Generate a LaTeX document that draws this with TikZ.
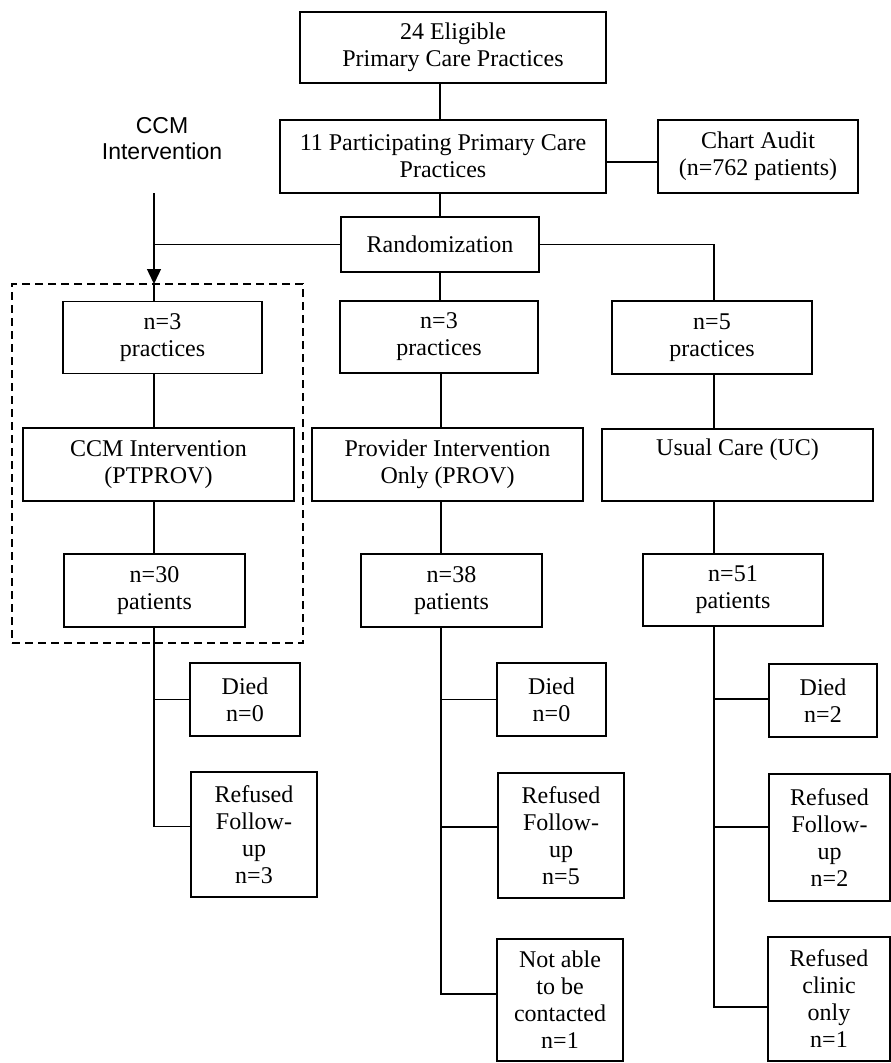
\documentclass[tikz,border=0pt]{standalone}
\usepackage{fontspec}
\setmainfont{Liberation Serif}
\newfontfamily\labelsans{Liberation Sans}
\usetikzlibrary{arrows.meta,calc}
\begin{document}
\begin{tikzpicture}[x=1pt,y=-1pt,
  box/.style={draw,line width=1.4pt,align=center,inner sep=0pt,font=\fontsize{24}{27}\selectfont},
  conn/.style={line width=1.4pt},
  groupbox/.style={draw,line width=1.4pt,dash pattern=on 8pt off 5pt,inner sep=0pt},
]
\useasboundingbox (0,0) rectangle (891,1063);

% dashed group
\node[groupbox,minimum width=291pt,minimum height=359pt] (ccmgroup) at (157.5,463.5) {};

% top
\node[box,minimum width=306pt,minimum height=71pt] (elig) at (453,47.5) {24 Eligible\\Primary Care Practices};
\node[box,minimum width=326pt,minimum height=73pt] (part) at (443,156.5) {11 Participating Primary Care\\Practices};
\node[box,minimum width=200pt,minimum height=73pt] (chart) at (758,156.5) {Chart Audit\\(n=762 patients)};
\node[box,minimum width=198pt,minimum height=55pt] (rand) at (440,244.5) {Randomization};

\node[font=\labelsans\fontsize{23}{26}\selectfont,align=center,inner sep=0pt] (ccmlabel) at (162,139) {CCM\\Intervention};

% left column
\node[box,minimum width=199pt,minimum height=72pt] (Ln3) at (162.5,337.5) {n=3\\practices};
\node[box,minimum width=271pt,minimum height=73pt] (Lccm) at (158.5,464.5) {CCM Intervention\\(PTPROV)};
\node[box,minimum width=181pt,minimum height=73pt] (Ln30) at (154.5,590.5) {n=30\\patients};
\node[box,minimum width=110pt,minimum height=73pt] (Ldied) at (245,699.5) {Died\\n=0};
\node[box,minimum width=126pt,minimum height=125pt] (Lref) at (254,834.5) {Refused\\Follow-\\up\\n=3};

% middle column
\node[box,minimum width=198pt,minimum height=72pt] (Mn3) at (439,337) {n=3\\practices};
\node[box,minimum width=271pt,minimum height=73pt] (Mprov) at (447.5,464.5) {Provider Intervention\\Only (PROV)};
\node[box,minimum width=181pt,minimum height=73pt] (Mn38) at (451.5,590.5) {n=38\\patients};
\node[box,minimum width=109pt,minimum height=73pt] (Mdied) at (551.5,699.5) {Died\\n=0};
\node[box,minimum width=126pt,minimum height=125pt] (Mref) at (561,835.5) {Refused\\Follow-\\up\\n=5};
\node[box,minimum width=126pt,minimum height=122pt] (Mnot) at (560,1000) {Not able\\to be\\contacted\\n=1};

% right column
\node[box,minimum width=200pt,minimum height=73pt] (Rn5) at (712,337.5) {n=5\\practices};
\node[box,minimum width=271pt,minimum height=72pt] (Ruc) at (737.5,465) {Usual Care (UC)\\\strut};
\node[box,minimum width=180pt,minimum height=72pt] (Rn51) at (733,590) {n=51\\patients};
\node[box,minimum width=108pt,minimum height=73pt] (Rdied) at (823,700.5) {Died\\n=2};
\node[box,minimum width=121pt,minimum height=127pt] (Rref) at (829.5,837.5) {Refused\\Follow-\\up\\n=2};
\node[box,minimum width=122pt,minimum height=124pt] (Rclin) at (829,999) {Refused\\clinic\\only\\n=1};

% trunk x positions and entry points
\coordinate (Lx) at (154,0);
\coordinate (Mx) at (441,0);
\coordinate (Rx) at (714,0);
\coordinate (arrstart) at (154,193);
\coordinate (arrtip) at (154,284);
\coordinate (Lrefin) at ([yshift=8pt]Lref.west);
\coordinate (Mrefin) at ([yshift=8.5pt]Mref.west);
\coordinate (Mnotin) at ([yshift=6pt]Mnot.west);
\coordinate (Rdiedin) at ([yshift=1.5pt]Rdied.west);
\coordinate (Rrefin) at ([yshift=10.5pt]Rref.west);
\coordinate (Rclinin) at ([yshift=-8pt]Rclin.west);
\coordinate (partout) at ([yshift=-5.5pt]part.east);

% top connectors
\draw[conn] (rand.north |- elig.south) -- (rand.north |- part.north);
\draw[conn] (part.south -| rand.north) -- (rand.north);
\draw[conn] (partout) -- (partout -| chart.west);
\draw[conn] (rand.west) -- (rand.west -| Lx);
\draw[conn] (rand.east) -- (rand.east -| Rx) -- (Rx |- Rn5.north);
\draw[conn] (rand.south) -- (rand.south |- Mn3.north);
\draw[conn,-{Triangle[length=15pt,width=14pt]}] (arrstart) -- (arrtip);
\draw[conn] (arrtip) -- (Lx |- Ln3.north);

% left column connectors
\draw[conn] (Lx |- Ln3.south) -- (Lx |- Lccm.north);
\draw[conn] (Lx |- Lccm.south) -- (Lx |- Ln30.north);
\draw[conn] (Lx |- Ln30.south) -- (Lx |- Lrefin) -- (Lrefin);
\draw[conn] (Lx |- Ldied.west) -- (Ldied.west);

% middle column connectors
\draw[conn] (Mx |- Mn3.south) -- (Mx |- Mprov.north);
\draw[conn] (Mx |- Mprov.south) -- (Mx |- Mn38.north);
\draw[conn] (Mx |- Mn38.south) -- (Mx |- Mnotin) -- (Mnotin);
\draw[conn] (Mx |- Mdied.west) -- (Mdied.west);
\draw[conn] (Mx |- Mrefin) -- (Mrefin);

% right column connectors
\draw[conn] (Rx |- Rn5.south) -- (Rx |- Ruc.north);
\draw[conn] (Rx |- Ruc.south) -- (Rx |- Rn51.north);
\draw[conn] (Rx |- Rn51.south) -- (Rx |- Rclinin) -- (Rclinin);
\draw[conn] (Rx |- Rdiedin) -- (Rdiedin);
\draw[conn] (Rx |- Rrefin) -- (Rrefin);
\end{tikzpicture}
\end{document}
